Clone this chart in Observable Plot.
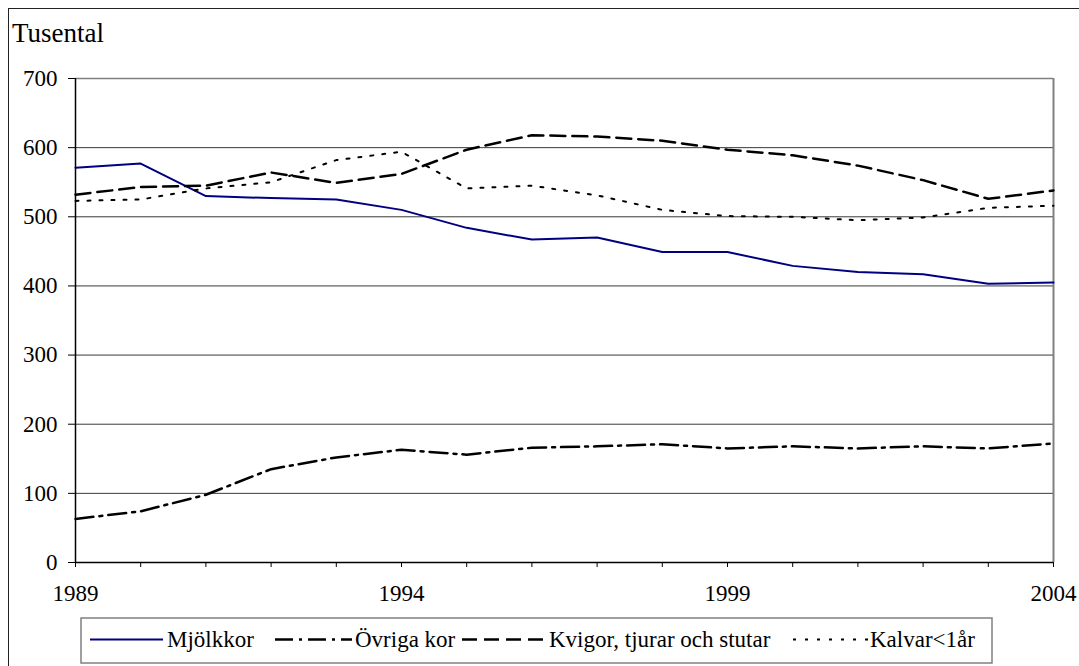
<!DOCTYPE html>
<html><head><meta charset="utf-8">
<script src="https://cdn.jsdelivr.net/npm/d3@7"></script>
<script src="https://cdn.jsdelivr.net/npm/@observablehq/plot@0.6"></script>
<style>
html,body{margin:0;padding:0;background:#fff;overflow:hidden;}
#wrap{position:relative;width:1079px;height:666px;overflow:hidden;}
#frame{position:absolute;left:8px;top:8px;width:1200px;height:800px;border:1.5px solid #222;}
#chart{position:absolute;left:0;top:0;}
#overlay{position:absolute;left:0;top:0;}
</style></head><body>
<div id="wrap"><div id="frame"></div><div id="chart"></div><svg id="overlay" width="1079" height="666"></svg></div>
<script>
const years = [1989,1990,1991,1992,1993,1994,1995,1996,1997,1998,1999,2000,2001,2002,2003,2004];
const xLabels = [1989,1994,1999,2004];
const yTicks = [0,100,200,300,400,500,600,700];
const seriesNames = ["Mjölkkor","Övriga kor","Kvigor, tjurar och stutar","Kalvar<1år"];
const mjolkkor = [571,577,530,527,525,510,484,467,470,449,449,429,420,417,403,405];
const ovrigaKor = [63,74,98,135,152,163,156,166,168,171,165,168,165,168,165,172];
const kvigor = [532,543,545,564,549,562,597,618,616,610,597,589,574,553,526,538];
const kalvar = [523,525,541,550,582,594,541,545,531,510,501,500,495,499,513,516];
const yTitle = "Tusental";

const styles = [
  {stroke:"#000080", strokeWidth:2, dash:null},
  {stroke:"#000", strokeWidth:2.5, dash:"18,6,3,6"},
  {stroke:"#000", strokeWidth:2.5, dash:"15,7"},
  {stroke:"#000", strokeWidth:2, dash:"3,9"}
];
const seriesValues = [mjolkkor, ovrigaKor, kvigor, kalvar];
const font = "Liberation Serif";

const lineMarks = seriesValues.map((vals,i) => Plot.lineY(vals, {
  x: years, stroke: styles[i].stroke, strokeWidth: styles[i].strokeWidth,
  strokeDasharray: styles[i].dash || undefined
}));

const chart = Plot.plot({
  width: 1079, height: 666,
  marginLeft: 75, marginRight: 26, marginTop: 78, marginBottom: 104,
  x: {domain: [1989, 2004]},
  y: {domain: [0, 700]},
  style: {fontFamily: font, fontSize: "23px", background: "transparent", color: "#000", overflow: "visible"},
  marks: [
    Plot.ruleY(yTicks.filter(v => v > 0 && v < 700), {stroke: "#3a3a3a", strokeWidth: 1}),
    Plot.ruleY([700], {stroke: "#808080", strokeWidth: 1.5}),
    Plot.ruleX([2004], {stroke: "#808080", strokeWidth: 2}),
    ...lineMarks,
    Plot.ruleY([0], {stroke: "#000", strokeWidth: 1.5}),
    Plot.ruleX([1989], {stroke: "#000", strokeWidth: 1.5}),
    Plot.axisY({ticks: yTicks, tickSize: 7, tickPadding: 11, fontSize: 23, fontFamily: font, fontVariant: "normal", tickFormat: d => String(d)}),
    Plot.axisX({ticks: years, tickSize: 5, tickPadding: 17.5, fontSize: 23, fontFamily: font, fontVariant: "normal",
      tickFormat: d => xLabels.includes(d) ? String(d) : ""})
  ]
});
document.getElementById("chart").appendChild(chart);
d3.select(chart).selectAll("text").attr("font-family", font).style("font-family", null).attr("font-variant", null);

const ov = d3.select("#overlay");
ov.append("text").attr("x", 12).attr("y", 41.7).attr("font-family", font).attr("font-size", 27).text(yTitle);
ov.append("rect").attr("x", 81).attr("y", 618).attr("width", 911).attr("height", 45)
  .attr("fill", "#fff").attr("stroke", "#808080").attr("stroke-width", 1.5);
const legendLayout = [
  {x1: 90, x2: 163, tx: 167},
  {x1: 275, x2: 352, tx: 355},
  {x1: 462, x2: 547, tx: 549},
  {x1: 793, x2: 868, tx: 870}
];
seriesNames.forEach((name, i) => {
  const L = legendLayout[i], s = styles[i];
  const ln = ov.append("line").attr("x1", L.x1).attr("x2", L.x2).attr("y1", 639.5).attr("y2", 639.5)
    .attr("stroke", s.stroke).attr("stroke-width", s.strokeWidth);
  if (s.dash) ln.attr("stroke-dasharray", s.dash);
  ov.append("text").attr("x", L.tx).attr("y", 646.5)
    .attr("font-family", font).attr("font-size", 23).text(name);
});
</script>
</body></html>
